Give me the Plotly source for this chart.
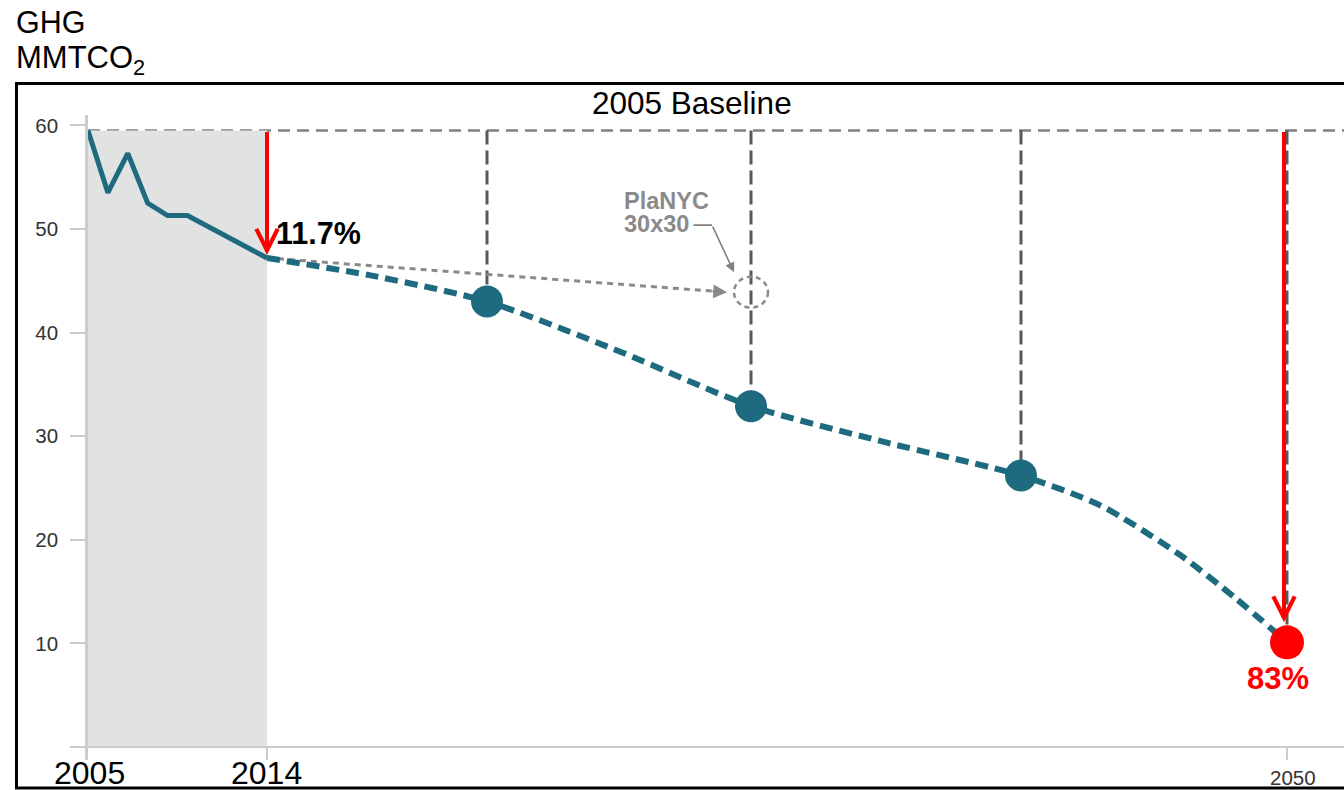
import numpy as np
import plotly.graph_objects as go

# ---------------- data ----------------
# non-linear time scale used by the original chart (year -> horizontal position)
AXIS_YEARS = [2005, 2014, 2020, 2030, 2040, 2050]
AXIS_POS = [88, 267, 487, 751, 1021, 1287]

HIST_YEARS = [2005, 2006, 2007, 2008, 2009, 2010, 2014]
HIST_GHG = [59.5, 53.5, 57.3, 52.5, 51.3, 51.3, 47.2]

PROJ_YEARS = [2014, 2017, 2020, 2025, 2030, 2035, 2040, 2043, 2046, 2048, 2050]
PROJ_GHG = [47.2, 45.4, 43.0, 38.2, 32.9, 29.4, 26.2, 23.3, 18.5, 14.5, 10.1]

MILESTONE_YEARS = [2020, 2030, 2040]
MILESTONE_GHG = [43.0, 32.9, 26.2]

TARGET_YEAR = 2050
TARGET_GHG = 10.1

BASELINE_GHG = 59.5
PLANYC_YEAR = 2030
PLANYC_GHG = 43.9

X_TICK_YEARS = [2005, 2014, 2050]
Y_TICKS = [0, 10, 20, 30, 40, 50, 60]
Y_TICK_TEXT = ["", "10", "20", "30", "40", "50", "60"]

# ---------------- styling / layout ----------------
W, H = 1344, 790
ML, MR, MT, MB = 88, 0, 115, 30
TEAL = "#1e6b80"
RED = "#ff0000"
FONT = "Liberation Sans, Arial, Helvetica, sans-serif"


def pos(years):
    return np.interp(years, AXIS_YEARS, AXIS_POS)


def px(x):  # pixel -> paper x
    return (x - ML) / (W - ML - MR)


def py(y):  # pixel -> paper y
    return (H - MB - y) / (H - MT - MB)


fig = go.Figure()

# dotted grey "business as usual" line toward PlaNYC 30x30 goal
fig.add_trace(go.Scatter(
    x=[pos(2014), pos(PLANYC_YEAR) - 24], y=[HIST_GHG[-1], PLANYC_GHG],
    mode="lines", line=dict(color="#8a8a8a", width=3, dash="6px,5px"),
    hoverinfo="skip", showlegend=False))

# historical
fig.add_trace(go.Scatter(
    x=pos(HIST_YEARS), y=HIST_GHG, mode="lines",
    line=dict(color=TEAL, width=5), hoverinfo="skip", showlegend=False))

# projection
fig.add_trace(go.Scatter(
    x=pos(PROJ_YEARS), y=PROJ_GHG, mode="lines",
    line=dict(color=TEAL, width=6, dash="13px,7px", shape="spline", smoothing=0.7),
    hoverinfo="skip", showlegend=False))

# milestone markers
fig.add_trace(go.Scatter(
    x=pos(MILESTONE_YEARS), y=MILESTONE_GHG, mode="markers",
    marker=dict(color=TEAL, size=32), hoverinfo="skip", showlegend=False))
fig.add_trace(go.Scatter(
    x=[pos(TARGET_YEAR)], y=[TARGET_GHG], mode="markers",
    marker=dict(color=RED, size=34), hoverinfo="skip", showlegend=False))

shapes = []
# shaded history region
shapes.append(dict(type="rect", xref="x", yref="y", x0=pos(2005), x1=pos(2014),
                   y0=0, y1=BASELINE_GHG, fillcolor="#e1e2e2", line=dict(width=0),
                   layer="below"))
# baseline
shapes.append(dict(type="line", xref="paper", yref="y", x0=0, x1=1,
                   y0=BASELINE_GHG, y1=BASELINE_GHG,
                   line=dict(color="#808080", width=2.5, dash="12px,7px"), layer="below"))
# vertical droplines
for yr, v in zip(MILESTONE_YEARS + [TARGET_YEAR], MILESTONE_GHG + [TARGET_GHG]):
    shapes.append(dict(type="line", xref="x", yref="y", x0=pos(yr), x1=pos(yr),
                       y0=BASELINE_GHG, y1=v,
                       line=dict(color="#595959", width=3, dash="14px,6px"), layer="below"))
# PlaNYC dashed circle
shapes.append(dict(type="circle", xref="x", yref="y", xsizemode="pixel", ysizemode="pixel",
                   xanchor=float(pos(PLANYC_YEAR)), yanchor=PLANYC_GHG,
                   x0=-17, x1=17, y0=-15.5, y1=15.5,
                   line=dict(color="#8a8a8a", width=2.5, dash="5px,4px"), layer="above"))
# outer frame
shapes.append(dict(type="rect", xref="paper", yref="paper",
                   x0=px(16.5), x1=px(1360), y0=py(788), y1=py(83.5),
                   line=dict(color="black", width=3), fillcolor="rgba(0,0,0,0)", layer="above"))

annotations = []


def label(text, x, y, size, color="black", xanchor="left", bold=False):
    t = f"<b>{text}</b>" if bold else text
    annotations.append(dict(text=t, xref="paper", yref="paper", x=px(x), y=py(y),
                            xanchor=xanchor, yanchor="middle", showarrow=False,
                            font=dict(family=FONT, size=size, color=color)))


label("GHG", 14, 22.5, 30.5)
label("MMTCO<sub>2</sub>", 14, 60, 31)
label("2005 Baseline", 692, 103, 31.5, xanchor="center")
label("11.7%", 274, 233, 30.5, bold=True)
label("83%", 1278, 678, 31, color=RED, xanchor="center", bold=True)
label("PlaNYC", 622, 201, 23.5, color="#8a8a8a", bold=True)
label("30x30", 622, 224, 23.5, color="#8a8a8a", bold=True)
label("2005", 89, 773, 32, xanchor="center")
label("2014", 266, 773, 32, xanchor="center")
label("2050", 1293, 777, 20.5, color="#333333", xanchor="center")

# red reduction arrows
annotations.append(dict(text="", x=pos(2014), y=HIST_GHG[-1], xref="x", yref="y",
                        ax=pos(2014), ay=BASELINE_GHG, axref="x", ayref="y",
                        showarrow=True, arrowhead=5, arrowsize=1.05, arrowwidth=4,
                        arrowcolor=RED, standoff=3))
annotations.append(dict(text="", x=pos(TARGET_YEAR), y=TARGET_GHG, xref="x", yref="y",
                        ax=pos(TARGET_YEAR), ay=BASELINE_GHG, axref="x", ayref="y",
                        xshift=-3, showarrow=True, arrowhead=5, arrowsize=1.05, arrowwidth=4,
                        arrowcolor=RED, standoff=20))
# head of the dotted grey arrow
annotations.append(dict(text="", x=pos(PLANYC_YEAR), y=PLANYC_GHG, xref="x", yref="y",
                        xshift=-24, ax=-16, ay=-1, showarrow=True, arrowhead=2,
                        arrowsize=1.1, arrowwidth=2.5, arrowcolor="#8a8a8a"))
# PlaNYC leader line
annotations.append(dict(text="", x=pos(PLANYC_YEAR), y=PLANYC_GHG, xref="x", yref="y",
                        xshift=-17, yshift=20, ax=-22, ay=-47, showarrow=True,
                        arrowhead=2, arrowsize=1.2, arrowwidth=1.6, arrowcolor="#808080"))
annotations.append(dict(text="", x=pos(PLANYC_YEAR), y=PLANYC_GHG, xref="x", yref="y",
                        xshift=-39, yshift=67, ax=-20, ay=0, showarrow=True,
                        arrowhead=0, arrowwidth=1.6, arrowcolor="#808080"))

fig.update_layout(
    width=W, height=H, margin=dict(l=ML, r=MR, t=MT, b=MB, pad=0),
    paper_bgcolor="white", plot_bgcolor="white",
    shapes=shapes, annotations=annotations, showlegend=False,
    font=dict(family=FONT),
    xaxis=dict(range=[ML, W - MR], showgrid=False, zeroline=False, showline=False,
               ticks="inside", ticklen=13, tickwidth=2, tickcolor="#cccccc",
               tickvals=list(pos(X_TICK_YEARS)), showticklabels=False, fixedrange=True),
    yaxis=dict(range=[-1.255, 61.0], showgrid=False, zeroline=True,
               zerolinecolor="#cccccc", zerolinewidth=2,
               showline=True, linecolor="#cccccc", linewidth=2.5,
               ticks="outside", ticklen=15, tickwidth=2, tickcolor="#cccccc",
               tickvals=Y_TICKS, ticktext=Y_TICK_TEXT, ticklabelstandoff=8,
               tickfont=dict(family=FONT, size=20.5, color="#333333"), fixedrange=True),
)

fig.write_html("out.html")
